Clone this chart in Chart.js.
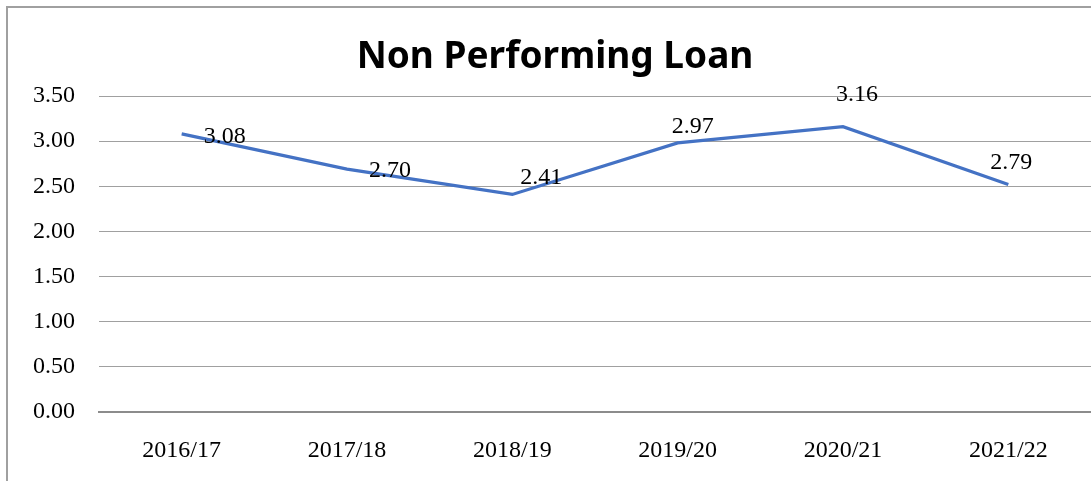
<!doctype html><html lang="en"><head>
<meta charset="UTF-8"><title>Non Performing Loan</title>
<script src="https://cdn.jsdelivr.net/npm/chart.js"></script>
<style>
 html,body{margin:0;background:#fff;overflow:hidden}
 canvas{display:block}
</style></head><body>
<canvas id="npl" width="1091" height="481"></canvas>
<script>
// ----- data -----
const chartTitle = 'Non Performing Loan';
const years   = ['2016/17','2017/18','2018/19','2019/20','2020/21','2021/22'];
const nplLine = [3.08, 2.69, 2.41, 2.98, 3.16, 2.52];       // where the line is drawn
const nplText = ['3.08','2.70','2.41','2.97','3.16','2.79']; // labels as printed
const yTicks  = [0, 0.5, 1, 1.5, 2, 2.5, 3, 3.5];

const serif = '"Liberation Serif", "Times New Roman", serif';

// outer frame (right/bottom edges run off the picture) + title centred on it
const frame = {
  id:'frame',
  beforeDraw(c){
    const g=c.ctx; g.save();
    g.strokeStyle='#a0a0a0'; g.lineWidth=2;
    g.strokeRect(7,7,1200,600);
    g.font='bold 37px "Noto Sans", sans-serif'; g.fillStyle='#000';
    g.textAlign='center'; g.textBaseline='alphabetic';
    g.fillText(chartTitle, 555, 68);
    g.restore();
  }
};

// value labels next to each point
const valueLabels = {
  id:'valueLabels',
  afterDatasetsDraw(c,args,opts){
    const g=c.ctx, pts=c.getDatasetMeta(0).data;
    g.save();
    g.font='24px '+serif; g.fillStyle='#000';
    g.textAlign='center'; g.textBaseline='middle';
    pts.forEach((p,i)=>{
      const o=opts.offsets[i];
      g.fillText(nplText[i], p.x+o[0], p.y+o[1]);
    });
    g.restore();
  }
};

new Chart(document.getElementById('npl'),{
  type:'line',
  data:{labels:years,datasets:[{
    data:nplLine, borderColor:'#4472C4', borderWidth:3.2,
    pointRadius:0, tension:0, fill:false
  }]},
  options:{
    responsive:false, animation:false,
    layout:{padding:{top:96}},
    plugins:{
      legend:{display:false}, tooltip:{enabled:false}, title:{display:false},
      valueLabels:{offsets:[[43,3],[43,2],[29,-17],[15,-16],[14,-32],[3,-22]]}
    },
    scales:{
      x:{
        offset:true,
        grid:{display:false,drawTicks:false,offset:true},
        border:{display:true,color:'#8c8c8c',width:2},
        ticks:{color:'#000',font:{family:serif,size:24},padding:24,maxRotation:0},
        afterFit(s){ s.height=69; s.paddingLeft=0; s.paddingRight=0; }
      },
      y:{
        min:0,max:3.5,
        afterBuildTicks(s){ s.ticks=yTicks.map(v=>({value:v})); },
        grid:{color:'#a0a0a0',lineWidth:1,drawTicks:false},
        border:{display:false},
        ticks:{color:'#000',font:{family:serif,size:24},padding:24,
          callback:v=>v.toFixed(2)},
        afterFit(s){ s.width=99; }
      }
    }
  },
  plugins:[frame,valueLabels]
});
</script>
</body></html>
